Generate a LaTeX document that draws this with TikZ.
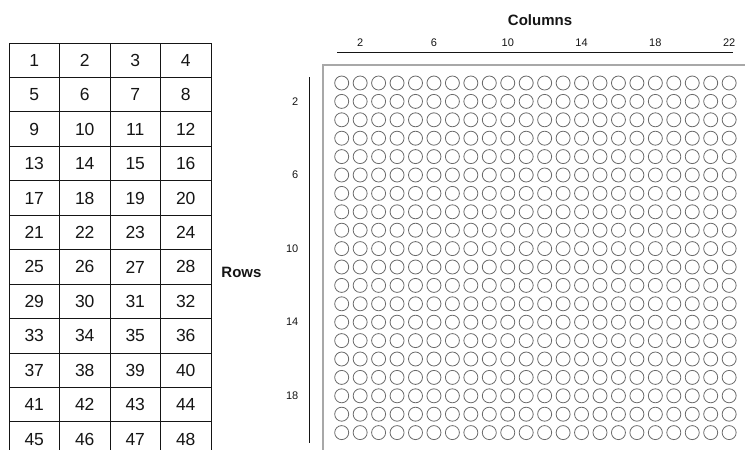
\documentclass[tikz,border=0pt]{standalone}
\usepackage{fontspec}
\setmainfont{Liberation Sans}
\definecolor{boxgrey}{HTML}{A8A8A8}
\definecolor{ringgrey}{HTML}{6A6A6A}
\definecolor{ink}{HTML}{151515}
\begin{document}
\begin{tikzpicture}[x=1pt,y=-1pt,
  cellbox/.style={draw=ink,line width=1pt,minimum width=50.5pt,minimum height=34.45pt,
    inner sep=0pt,outer sep=0pt,font=\fontsize{17.5}{17.5}\selectfont,text=ink},
  well/.style={circle,draw=ringgrey,line width=0.8pt,minimum size=14pt,inner sep=0pt},
  ticklab/.style={font=\fontsize{11}{11}\selectfont,text=ink,inner sep=0pt},
  axislab/.style={font=\fontsize{15}{15}\selectfont\bfseries,text=ink,inner sep=0pt},
  axisline/.style={draw=ink,line width=1pt}]
\useasboundingbox (0,0) rectangle (745,450);
\clip (0,0) rectangle (745,450);
% left table
\foreach \r in {1,...,12}{
  \foreach \c in {1,...,4}{
    \pgfmathtruncatemacro{\n}{(\r-1)*4+\c}
    \node[cellbox] (t\n) at ({9+50.5*(\c-0.5)},{43+34.45*(\r-0.5)}) {\n};
  }
}
\node[axislab] (rows) at (241.5,272) {Rows};
% plate box
\draw[boxgrey,line width=1.5pt] (760,65) -- (323,65) -- (323,460);
% wells
\foreach \r in {1,...,20}{
  \foreach \c in {1,...,22}{
    \node[well] (w\r-\c) at ({341.7+(\c-1)*18.45},{83+(\r-1)*18.4}) {};
  }
}
% column axis
\node[axislab] (cols) at (540,20) {Columns};
\coordinate (ha) at (337,52.7);
\coordinate (hb) at (733,52.7);
\draw[axisline] (ha) -- (hb);
\foreach \c in {2,6,10,14,18,22}{
  \node[ticklab] (cl\c) at ({341.7+(\c-1)*18.45},43) {\c};
}
% row axis
\coordinate (va) at (309,77);
\coordinate (vb) at (309,443);
\draw[axisline] (va) -- (vb);
\foreach \r in {2,6,10,14,18}{
  \node[ticklab,anchor=east] (rl\r) at (298.5,{83+(\r-1)*18.4}) {\r};
}
\end{tikzpicture}
\end{document}
